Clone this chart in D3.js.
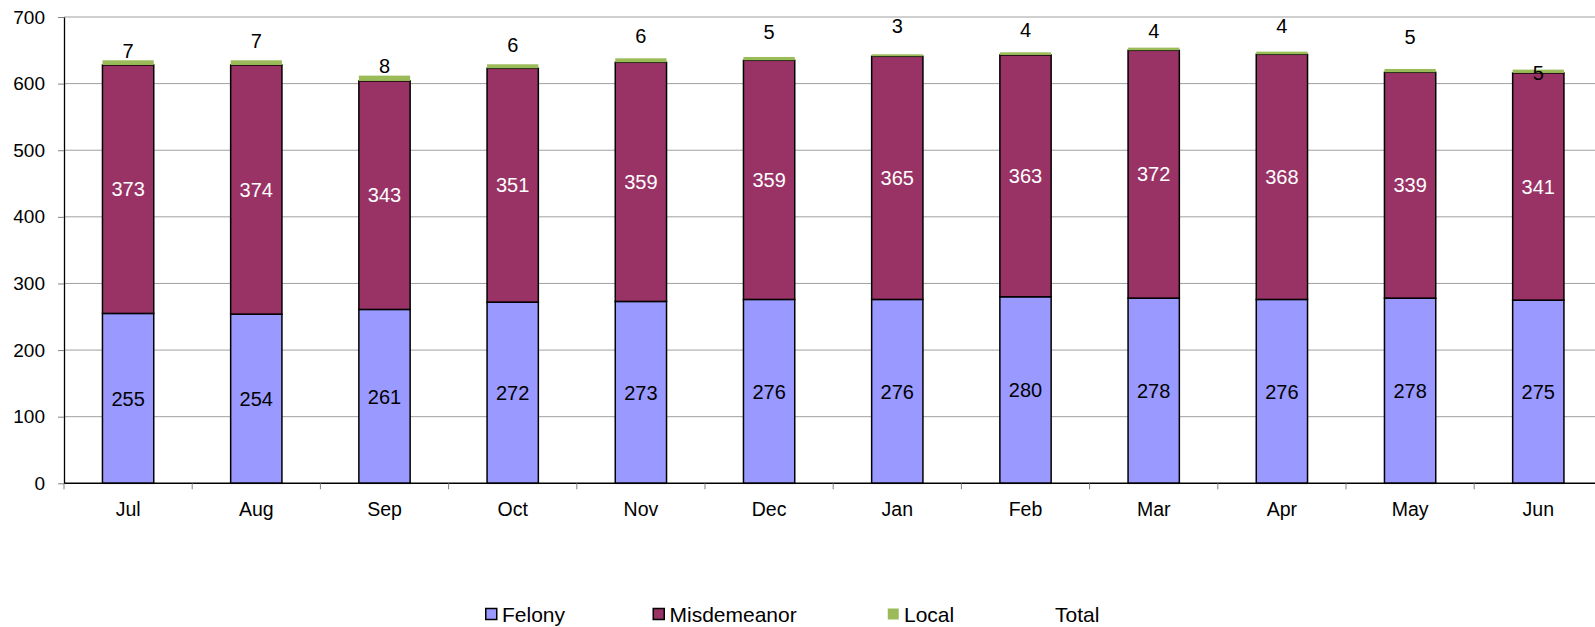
<!DOCTYPE html>
<html>
<head>
<meta charset="utf-8">
<script src="https://cdn.jsdelivr.net/npm/d3@7/dist/d3.min.js"></script>
<style>
  body { margin: 0; background: #fff; }
  svg { display: block; font-family: "Liberation Sans", Arial, sans-serif; }
</style>
</head>
<body>
<div id="chart"></div>
<script>
// data
const months = ["Jul", "Aug", "Sep", "Oct", "Nov", "Dec", "Jan", "Feb", "Mar", "Apr", "May", "Jun"];
const felony = [255, 254, 261, 272, 273, 276, 276, 280, 278, 276, 278, 275];
const misdemeanor = [373, 374, 343, 351, 359, 359, 365, 363, 372, 368, 339, 341];
const local = [7, 7, 8, 6, 6, 5, 3, 4, 4, 4, 5, 5];
// where the local labels sit, in value units (manually placed in the original)
const localLabelAt = [650, 664, 627, 659, 672, 678, 687, 681, 680, 687, 670, 616];
const yTicks = [0, 100, 200, 300, 400, 500, 600, 700];
const legendNames = ["Felony", "Misdemeanor", "Local", "Total"];

const w = 1595, h = 627;
const plotLeft = 64, plotTop = 17, plotBottom = 483.3;
const step = 128.2;

const svg = d3.select("#chart")
  .append("svg")
  .attr("width", w)
  .attr("height", h);

const x = d3.scaleBand()
  .domain(months)
  .range([plotLeft, plotLeft + step * months.length])
  .paddingInner(0.6)
  .paddingOuter(0.3);

const y = d3.scaleLinear()
  .domain([0, 700])
  .range([plotBottom, plotTop]);

// gridlines
svg.append("g")
  .selectAll("line")
  .data(yTicks.filter(d => d > 0))
  .enter()
  .append("line")
  .attr("x1", plotLeft)
  .attr("x2", w)
  .attr("y1", d => y(d))
  .attr("y2", d => y(d))
  .attr("stroke", "#a0a0a0")
  .attr("stroke-width", 1);

// stacked bars
const rows = months.map((m, i) => ({
  month: m, felony: felony[i], misdemeanor: misdemeanor[i], local: local[i], labelAt: localLabelAt[i]
}));

const stack = d3.stack().keys(["felony", "misdemeanor", "local"]);
const series = stack(rows);
const fills = { felony: "#9999ff", misdemeanor: "#993366", local: "#9bbb59" };

series.forEach(s => {
  const outlined = s.key !== "local";
  svg.append("g")
    .selectAll("rect")
    .data(s)
    .enter()
    .append("rect")
    .attr("x", d => x(d.data.month))
    .attr("width", x.bandwidth())
    .attr("y", d => y(d[1]))
    .attr("height", d => y(d[0]) - y(d[1]))
    .attr("fill", fills[s.key])
    .attr("stroke", outlined ? "#000" : "none")
    .attr("stroke-width", 1.5);
});

// segment labels
series.slice(0, 2).forEach(s => {
  svg.append("g")
    .selectAll("text")
    .data(s)
    .enter()
    .append("text")
    .attr("x", d => x(d.data.month) + x.bandwidth() / 2)
    .attr("y", d => y((d[0] + d[1]) / 2))
    .attr("dy", "0.36em")
    .attr("text-anchor", "middle")
    .attr("font-size", 20)
    .attr("fill", s.key === "misdemeanor" ? "#fff" : "#000")
    .text(d => d[1] - d[0]);
});

svg.append("g")
  .selectAll("text")
  .data(rows)
  .enter()
  .append("text")
  .attr("x", d => x(d.month) + x.bandwidth() / 2)
  .attr("y", d => y(d.labelAt))
  .attr("dy", "0.36em")
  .attr("text-anchor", "middle")
  .attr("font-size", 20)
  .attr("fill", "#000")
  .text(d => d.local);

// y axis
const yAxis = d3.axisLeft(y)
  .tickValues(yTicks)
  .tickSize(6)
  .tickPadding(13)
  .tickSizeOuter(0);

const gy = svg.append("g")
  .attr("transform", "translate(" + plotLeft + ",0)")
  .call(yAxis);
gy.select(".domain").attr("stroke", "#000").attr("stroke-width", 1.3);
gy.selectAll(".tick line").attr("stroke", "#808080");
gy.selectAll("text").attr("font-size", 19).attr("fill", "#000").attr("font-family", null);

// x axis: labels under bands, ticks on band edges
svg.append("line")
  .attr("x1", plotLeft)
  .attr("x2", w)
  .attr("y1", plotBottom)
  .attr("y2", plotBottom)
  .attr("stroke", "#000")
  .attr("stroke-width", 1.5);

const edges = d3.range(months.length + 1);
svg.append("g")
  .selectAll("line")
  .data(edges)
  .enter()
  .append("line")
  .attr("x1", i => plotLeft + i * x.step())
  .attr("x2", i => plotLeft + i * x.step())
  .attr("y1", plotBottom)
  .attr("y2", plotBottom + 6)
  .attr("stroke", "#808080");

svg.append("g")
  .selectAll("text")
  .data(months)
  .enter()
  .append("text")
  .attr("x", d => x(d) + x.bandwidth() / 2)
  .attr("y", 508.5)
  .attr("dy", "0.36em")
  .attr("text-anchor", "middle")
  .attr("font-size", 19.5)
  .attr("fill", "#000")
  .text(d => d);

// legend
const legendX = [485, 652.5, 887, 1038];
const legendFill = [fills.felony, fills.misdemeanor, fills.local, null];
const legendStroke = ["#000", "#000", "none", "none"];
const legendY = 614;

const lg = svg.append("g")
  .selectAll("g")
  .data(legendNames)
  .enter()
  .append("g")
  .attr("transform", (d, i) => "translate(" + legendX[i] + "," + legendY + ")");

lg.filter((d, i) => legendFill[i] !== null)
  .append("rect")
  .attr("x", 0.75)
  .attr("y", -5.5)
  .attr("width", 11)
  .attr("height", 11)
  .attr("fill", d => legendFill[legendNames.indexOf(d)])
  .attr("stroke", d => legendStroke[legendNames.indexOf(d)])
  .attr("stroke-width", 1.5);

lg.append("text")
  .attr("x", 17)
  .attr("dy", "0.36em")
  .attr("font-size", 21)
  .attr("fill", "#000")
  .text(d => d);
</script>
</body>
</html>
